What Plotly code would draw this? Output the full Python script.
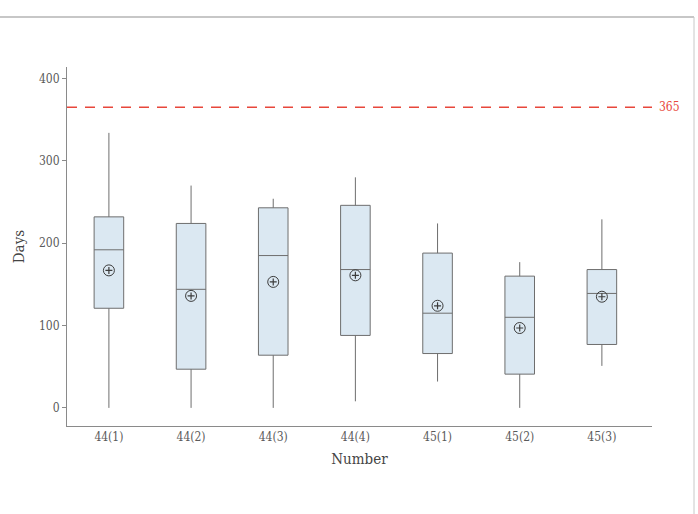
import plotly.graph_objects as go

categories = ["44(1)", "44(2)", "44(3)", "44(4)", "45(1)", "45(2)", "45(3)"]
lower = [0, 0, 0, 8, 32, 0, 51]
q1 = [121, 47, 64, 88, 66, 41, 77]
median = [192, 144, 185, 168, 115, 110, 139]
q3 = [232, 224, 243, 246, 188, 160, 168]
upper = [334, 270, 254, 280, 224, 177, 229]
means = [167, 136, 153, 161, 124, 97, 135]
ref_value = 365
y_ticks = [0, 100, 200, 300, 400]

FONT = "DejaVu Serif Condensed, DejaVu Serif, serif"
GRAY = "#6e6e6e"
RED = "#e8473b"

fig = go.Figure()
fig.add_trace(go.Box(
    x=categories, q1=q1, median=median, q3=q3,
    lowerfence=lower, upperfence=upper,
    fillcolor="#dbe8f2", line=dict(color=GRAY, width=1),
    whiskerwidth=0, width=0.36, boxpoints=False, showlegend=False,
    hoverinfo="skip",
))
# mean marker: circle with a small plus inside
fig.add_trace(go.Scatter(
    x=categories, y=means, mode="markers",
    marker=dict(symbol="circle-open", size=11,
                color="#3c3c3c", line=dict(width=1, color="#3c3c3c")),
    showlegend=False, hoverinfo="skip",
))
fig.add_trace(go.Scatter(
    x=categories, y=means, mode="markers",
    marker=dict(symbol="cross-thin-open", size=5,
                color="#3c3c3c", line=dict(width=1.2, color="#3c3c3c")),
    showlegend=False,
))

# reference line
fig.add_shape(type="line", xref="paper", yref="y", x0=0, x1=1,
              y0=ref_value, y1=ref_value,
              line=dict(color=RED, width=1.5, dash="10px,8px"))
fig.add_annotation(xref="paper", yref="y", x=1.0, y=ref_value,
                   text=str(ref_value), showarrow=False, xanchor="left",
                   xshift=5, font=dict(family=FONT, size=12, color=RED))

# outer frame (top and right)
fig.add_shape(type="line", xref="paper", yref="paper",
              x0=-0.12, x1=1.0718, y0=1.1393, y1=1.1393,
              line=dict(color="#b4b4b4", width=1.5))
fig.add_shape(type="line", xref="paper", yref="paper",
              x0=1.0718, x1=1.0718, y0=1.1393, y1=-0.26,
              line=dict(color="#c8c8c8", width=1))

fig.update_layout(
    width=698, height=514,
    margin=dict(l=67, r=46, t=67, b=88),
    paper_bgcolor="white", plot_bgcolor="white",
    font=dict(family=FONT, size=12, color="#5a5a5a"),
    xaxis=dict(type="category", range=[-0.51, 6.61],
               showline=True, linecolor="#8a8a8a", linewidth=1,
               ticks="", showgrid=False, zeroline=False,
               title=dict(text="Number", font=dict(family=FONT, size=15, color="#444444"),
                          standoff=10),
               tickfont=dict(family=FONT, size=12, color="#5a5a5a")),
    yaxis=dict(range=[-22, 414], tickvals=y_ticks,
               showline=True, linecolor="#8a8a8a", linewidth=1,
               ticks="outside", ticklen=4, tickcolor="#8a8a8a",
               showgrid=False, zeroline=False,
               title=dict(text="Days", font=dict(family=FONT, size=15, color="#444444"),
                          standoff=10),
               tickfont=dict(family=FONT, size=12, color="#5a5a5a")),
)

fig.write_html("out.html")
